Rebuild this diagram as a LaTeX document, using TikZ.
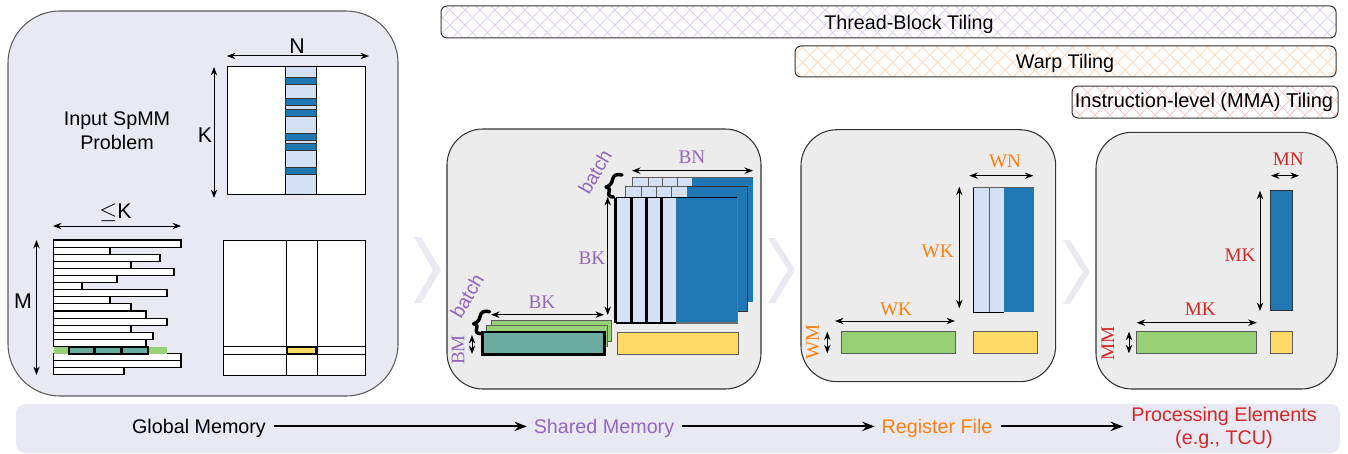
\documentclass[tikz,border=0pt]{standalone}
\usepackage{fontspec}
\setmainfont{Liberation Sans}
\newfontfamily\lblfont{Liberation Serif}
\usetikzlibrary{arrows.meta}
\definecolor{panelA}{HTML}{E8E9F2}
\definecolor{panelB}{HTML}{ECECEC}
\definecolor{lblue}{HTML}{D4E1F4}
\definecolor{dblue}{HTML}{1F77B4}
\definecolor{lgreen}{HTML}{98D076}
\definecolor{teal}{HTML}{69AB9E}
\definecolor{yel}{HTML}{FFD966}
\definecolor{purp}{HTML}{9467BD}
\definecolor{orng}{HTML}{FF7F0E}
\definecolor{redd}{HTML}{D62728}
\definecolor{edge}{HTML}{333333}
\newcommand{\hatchlines}[1]{%
  \foreach \i in {-60,...,110}{%
    \draw[#1,line width=0.75pt] (\i*15,-5) -- ++(150,150);
    \draw[#1,line width=0.75pt] (\i*15,-5) -- ++(-150,150);
  }}
\newcommand{\dimarrow}[5]{% name, x1,y1,x2,y2
  \coordinate (#1a) at (#2,#3);
  \coordinate (#1b) at (#4,#5);
  \draw[dimline] (#1a) -- (#1b);}
\newcommand{\brc}[2]{% shift x,y
  \draw[shift={(#1,#2)},line width=2.6pt,line cap=round,line join=round]
    (622,175) .. controls (616,173.5) and (613.5,175.5) .. (612.5,179.5)
    .. controls (612,183) and (610,186) .. (606,187)
    .. controls (609.5,188) and (610.5,190) .. (609,192)
    .. controls (608,195) and (609,197) .. (613.5,197);}
\tikzset{
  panelout/.style={draw=edge,line width=0.8pt},
  dimline/.style={Stealth-Stealth,line width=0.75pt,>=Stealth},
  flowline/.style={-Stealth,line width=1.4pt},
  sans/.style={font=\fontsize{14.8}{17}\selectfont,inner sep=0pt,align=center},
  bigsans/.style={font=\fontsize{16}{18}\selectfont,inner sep=0pt},
  serif/.style={font=\lblfont\fontsize{14.4}{17}\selectfont,inner sep=0pt},
  cell/.style={draw=black,line width=0.7pt},
  gcell/.style={draw=edge!80,line width=0.7pt},
  thick cell/.style={draw=black,line width=1.9pt},
  row/.style={draw=black,fill=white,line width=0.8pt},
  chevron/.style={fill=panelA,draw=none},
  tile/.style={rounded corners=4.5pt,draw=edge,line width=0.75pt},
}
\begin{document}
\begin{tikzpicture}[x=0.75pt,y=-0.75pt]
\useasboundingbox (0,0) rectangle (1348,453);

%% tiling bars
\begin{scope}
 \clip[rounded corners=4.5pt] (441,6) rectangle (1336,38);
 \hatchlines{purp!30}
\end{scope}
\draw[tile] (441,6) rectangle (1336,38);
\node[sans] (tb) at (909,24) {Thread-Block Tiling};
\begin{scope}
 \clip[rounded corners=4.5pt] (795,46) rectangle (1336,77);
 \hatchlines{orng!28}
\end{scope}
\draw[tile] (795,46) rectangle (1336,77);
\node[sans] (wt) at (1065,63) {Warp Tiling};
\begin{scope}
 \clip[rounded corners=4.5pt] (1072,86) rectangle (1338,118);
 \hatchlines{redd!25}
\end{scope}
\draw[tile] (1072,86) rectangle (1338,118);
\node[sans,font=\fontsize{15}{17}\selectfont] (it) at (1204,102) {Instruction-level (MMA) Tiling};

%% left panel
\draw[fill=panelA,draw=edge!80,line width=0.8pt,rounded corners=39pt] (8,11) rectangle (398,396);
\node[sans] (inp) at (117,130.5) {Input SpMM\\[1pt]Problem};
\node[bigsans] (nN) at (297,46) {N};
\node[bigsans] (nK) at (205,135) {K};
\dimarrow{aN}{227}{56}{369}{56}
\dimarrow{aK}{214}{67}{214}{198}
\draw[cell,fill=white] (227,66) rectangle (365,194);
\draw[cell,fill=lblue] (285.5,66) rectangle (316,194);
\foreach \y in {77,98.7,109,133,143,167}
  \draw[draw=edge,fill=dblue,line width=0.7pt] (285.5,\y) rectangle (316,\y+7);
\draw[cell] (227,66) rectangle (365,194);

\node[bigsans] (nLK) at (115.5,213) {$\leq$K};
\node[bigsans] (nM) at (23,301) {M};
\dimarrow{aLK}{53}{226}{181}{226}
\dimarrow{aM}{36.5}{240}{36.5}{375}
\foreach \n/\e in {0/181,1/110,2/160,3/131,4/174,5/117,6/82,7/167,8/110,9/131,10/146,11/167,12/131,13/153,14/146,16/181,17/181,18/124}
  \draw[row] (53.5,240+\n*7.1) rectangle (\e,240+\n*7.1+7.1);
\fill[lgreen] (53.5,346.7) rectangle (167,353.8);
\draw[thick cell,fill=teal] (69,347) rectangle (94,354);
\draw[thick cell,fill=teal] (95,347) rectangle (121,354);
\draw[thick cell,fill=teal] (122,347) rectangle (148,354);

\draw[cell,fill=white] (223.5,240) rectangle (365.5,375);
\draw[cell] (286.5,240) rectangle (317,375);
\draw[cell] (223.5,346.7) rectangle (365.5,354);
\draw[thick cell,fill=yel] (287,347) rectangle (316,354);

%% chevrons
\fill[chevron] (414,237) -- (421,237) -- (441,270) -- (421,303) -- (414,303) -- (433,270) -- cycle;
\fill[chevron] (768,238) -- (775,238) -- (795,270) -- (775,303) -- (768,303) -- (788,270) -- cycle;
\fill[chevron] (1063,240) -- (1070,240) -- (1090,272) -- (1070,304) -- (1063,304) -- (1083,272) -- cycle;

%% shared memory panel
\draw[panelout,fill=panelB,rounded corners=27pt] (447,129) rectangle (761,389);
\node[serif,text=purp] (nBN) at (692,157) {BN};
\node[serif,text=purp] (nBK1) at (592,258) {BK};
\node[serif,text=purp] (nBK2) at (542,302) {BK};
\node[serif,text=purp,rotate=90] (nBM) at (458,350) {BM};
\node[text=purp,rotate=60,font=\fontsize{14.5}{17}\selectfont,inner sep=0pt] (nb1) at (595,172) {batch};
\node[text=purp,rotate=60,font=\fontsize{14.5}{17}\selectfont,inner sep=0pt] (nb2) at (467,296) {batch};
\dimarrow{aBN}{632}{170.7}{753}{170.7}
\dimarrow{aBK1}{607.7}{197}{607.7}{315}
\dimarrow{aBK2}{491}{314.7}{604}{314.7}
\dimarrow{aBM}{472}{335}{472}{354}
\brc{0}{0}
\brc{-132.4}{136.7}
% back
\fill[dblue] (632,177.3) rectangle (753.3,302.3);
\fill[lblue] (632,177.3) rectangle (692,187);
\draw[gcell] (632,187) |- (753.3,177.3);
\foreach \x in {648,662.7,677.7} \draw[gcell] (\x,177.3) -- (\x,187);
% mid
\draw[edge,fill=dblue,line width=0.75pt] (625.7,186.7) rectangle (747,311.7);
\fill[lblue] (626,187) rectangle (687,198);
\foreach \x in {625.7,641.3,656.7,671.3} \draw[gcell] (\x,186.7) -- (\x,198);
\draw[gcell] (625.7,186.7) -- (687,186.7);
% front
\fill[dblue] (615.7,197.7) rectangle (737.3,323);
\fill[lblue] (615.7,197.7) rectangle (675.7,323);
\foreach \x in {615.7,631.3,646.7,661.3} \draw[thick cell,line width=2.1pt] (\x,197.7) -- (\x,323);
\draw[cell,line width=1.3pt] (675.7,323) -- (615.7,323);
\draw[cell,line width=1pt] (615.7,197.7) -- (737.3,197.7);
\draw[edge!70,line width=0.8pt] (737.3,197.7) -- (737.3,323) -- (675.7,323);
% green stack
\draw[gcell,fill=lgreen] (491,320) rectangle (611.7,341);
\draw[gcell,fill=lgreen] (486.3,325.7) rectangle (607.7,346.7);
\draw[thick cell,line width=2.2pt,fill=teal] (482.3,332) rectangle (604.3,354.3);
\draw[gcell,fill=yel] (617.7,332.3) rectangle (738.7,354);

%% register file panel
\draw[panelout,fill=panelB,rounded corners=27pt] (801,129.7) rectangle (1055.7,381.7);
\node[serif,text=orng] (nWN) at (1005,161.7) {WN};
\node[serif,text=orng] (nWK1) at (937.7,251.7) {WK};
\node[serif,text=orng] (nWK2) at (896,309) {WK};
\node[serif,text=orng,rotate=90] (nWM) at (812.7,341.7) {WM};
\dimarrow{aWN}{969.3}{175.7}{1033.3}{175.7}
\dimarrow{aWK1}{959.3}{186.7}{959.3}{308.3}
\dimarrow{aWK2}{835}{321}{955}{321}
\dimarrow{aWM}{827.3}{331.7}{827.3}{353.3}
\fill[dblue] (973.3,187.7) rectangle (1034.3,312.3);
\fill[lblue] (973.3,187.7) rectangle (1003.7,312.3);
\draw[gcell] (989,187.7) -- (989,312.3);
\draw[gcell] (973.3,187.7) -- (1034.3,187.7);
\draw[cell] (973.3,187.7) -- (973.3,312.3) -- (1003.7,312.3);
\draw[gcell,fill=lgreen] (841.3,331.7) rectangle (955.3,353.3);
\draw[gcell,fill=yel] (973.3,331.7) rectangle (1037.7,353.3);

%% PE panel
\draw[panelout,fill=panelB,rounded corners=27pt] (1096,132.3) rectangle (1337.3,389);
\node[serif,text=redd] (nMN) at (1288.3,159.7) {MN};
\node[serif,text=redd] (nMK1) at (1240,255) {MK};
\node[serif,text=redd] (nMK2) at (1200.3,309.3) {MK};
\node[serif,text=redd,rotate=90] (nMM) at (1107.7,343.3) {MM};
\dimarrow{aMN}{1271}{175.7}{1299}{175.7}
\dimarrow{aMK1}{1260}{190.7}{1260}{311}
\dimarrow{aMK2}{1136.7}{322.7}{1256.7}{322.7}
\dimarrow{aMM}{1129}{331.7}{1129}{353.3}
\draw[draw=edge,line width=0.6pt,fill=dblue] (1270.3,190) rectangle (1292.3,310.3);
\draw[gcell,fill=lgreen] (1136,331.7) rectangle (1256.7,353.3);
\draw[gcell,fill=yel] (1270.3,331.7) rectangle (1292.3,353.3);

%% bottom band
\fill[panelA,rounded corners=7pt] (16,404) rectangle (1340,453);
\node[sans] (gm) at (199,428) {Global Memory};
\node[sans,text=purp] (sm) at (604,428) {Shared Memory};
\node[sans,text=orng] (rf) at (937,428) {Register File};
\node[sans,text=redd] (pe) at (1224,428) {Processing Elements\\[0.5pt](e.g., TCU)};
\draw[flowline] ([xshift=6pt,yshift=1.2pt]gm.east) -- ([xshift=-5pt,yshift=1.2pt]sm.west);
\draw[flowline] ([xshift=6pt,yshift=1.2pt]sm.east) -- ([xshift=-5pt,yshift=1.2pt]rf.west);
\draw[flowline] ([xshift=6pt,yshift=1.2pt]rf.east) -- ([xshift=-6pt,yshift=1.2pt]pe.west);
\end{tikzpicture}
\end{document}
